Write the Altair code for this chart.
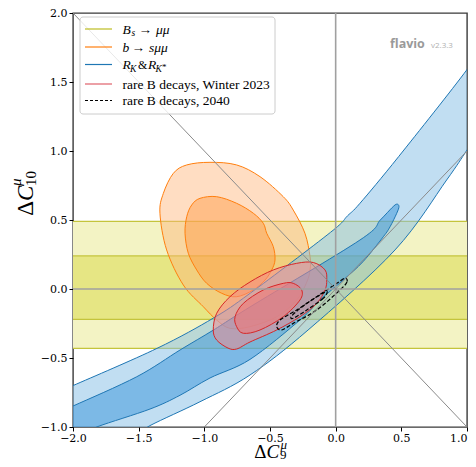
import altair as alt
import pandas as pd

# ---------------- data ----------------
X_TICKS = [-2.0, -1.5, -1.0, -0.5, 0.0, 0.5, 1.0]
Y_TICKS = [-1.0, -0.5, 0.0, 0.5, 1.0, 1.5, 2.0]

# Bs -> mumu horizontal bands (1 and 2 sigma)
BS_2SIG = [-0.43, 0.49]
BS_1SIG = [-0.22, 0.24]

# R_K & R_K* : 2 sigma band
BLUE2_X = [-2.2, -2.0, -1.36, -0.93, -0.65, -0.04, 0.09, 0.185, 0.48, 1.0, 1.15, 1.15,
           1.0, 0.845, 0.452, -0.21, -0.652, -1.033, -1.414, -1.6, -2.2]
BLUE2_Y = [-0.78, -0.70, -0.43, -0.21, -0.03, 0.41, 0.53, 0.621, 0.96, 1.59, 1.82, 1.22,
           1.007, 0.79, 0.283, -0.297, -0.623, -0.817, -0.99, -1.1, -1.1]
# R_K & R_K* : 1 sigma band
BLUE1_X = [-2.2, -2.0, -1.515, -1.185, -0.93, -0.652, 0.185, 0.34, 0.43, 0.465, 0.482,
           0.465, 0.414, 0.363, 0.21, 0.058, -0.12, -0.272, -0.652, -0.957, -1.185,
           -1.414, -1.82, -2.0, -2.2]
BLUE1_Y = [-0.93, -0.848, -0.636, -0.442, -0.297, -0.13, 0.355, 0.50, 0.59, 0.615, 0.598,
           0.549, 0.451, 0.379, 0.20, 0.065, -0.08, -0.225, -0.51, -0.645, -0.77,
           -0.87, -1.0, -1.08, -1.1]

# b -> s mumu
ORANGE2_X = [-0.957, -0.754, -0.576, -0.399, -0.323, -0.234, -0.195, -0.195, -0.22, -0.297,
             -0.449, -0.652, -0.805, -0.906, -1.008, -1.16, -1.287, -1.338, -1.312, -1.236, -1.134]
ORANGE2_Y = [0.918, 0.899, 0.814, 0.669, 0.572, 0.404, 0.234, 0.138, 0.05, -0.08,
             -0.201, -0.273, -0.285, -0.225, -0.128, 0.029, 0.283, 0.549, 0.693, 0.838, 0.899]
ORANGE1_X = [-1.033, -0.906, -0.754, -0.627, -0.551, -0.525, -0.475, -0.462, -0.487, -0.538,
             -0.627, -0.754, -0.868, -0.982, -1.058, -1.122, -1.147, -1.134, -1.096]
ORANGE1_Y = [0.657, 0.669, 0.621, 0.549, 0.476, 0.404, 0.307, 0.210, 0.138, 0.065,
             -0.007, -0.056, -0.031, 0.041, 0.138, 0.259, 0.404, 0.524, 0.609]

# rare B decays, Winter 2023
RED2_X = [-0.297, -0.170, -0.081, -0.068, -0.081, -0.144, -0.272, -0.449, -0.652, -0.754,
          -0.820, -0.906, -0.932, -0.906, -0.805, -0.652, -0.475]
RED2_Y = [0.186, 0.192, 0.138, 0.065, -0.007, -0.104, -0.201, -0.297, -0.384, -0.435,
          -0.428, -0.370, -0.297, -0.176, -0.056, 0.051, 0.138]
RED1_X = [-0.399, -0.323, -0.259, -0.272, -0.399, -0.576, -0.703, -0.754, -0.766, -0.703, -0.551]
RED1_Y = [0.041, 0.041, -0.007, -0.080, -0.201, -0.297, -0.321, -0.273, -0.201, -0.104, -0.007]

# rare B decays, 2040
DASH2_X = [0.071, 0.086, 0.033, -0.144, -0.323, -0.411, -0.449, -0.424, -0.297, -0.144, 0.008]
DASH2_Y = [0.078, 0.051, -0.007, -0.152, -0.249, -0.297, -0.273, -0.225, -0.152, -0.056, 0.041]
DASH1_X = [-0.066, -0.094, -0.220, -0.323, -0.332, -0.220, -0.119]
DASH1_Y = [-0.018, -0.067, -0.152, -0.212, -0.192, -0.104, -0.043]

# reference lines
DIAG_X = [-2.0, -1.0]
DIAG_Y = [2.0, -1.0]
DIAG_X2 = [1.0, 1.0]
DIAG_Y2 = [-1.0, 1.0]

LEGEND_LABELS = ["rare B decays, Winter 2023", "rare B decays, 2040"]

# ---------------- chart ----------------
W, H = 394, 414
xs = alt.Scale(domain=[-2, 1], nice=False, zero=False)
ys = alt.Scale(domain=[-1, 2], nice=False, zero=False)
xaxis = alt.Axis(values=X_TICKS, format='.1f', title=None, grid=False, domain=False,
                 tickColor='#000', tickSize=4, tickWidth=1, labelFont='DejaVu Serif',
                 labelFontSize=11, labelColor='#000', labelPadding=1, labelFlush=False,
                 labelAlign=alt.condition('datum.value == 1', alt.value('right'),
                                          alt.value('center')))
yaxis = alt.Axis(values=Y_TICKS, format='.1f', title=None, grid=False, domain=False,
                 tickColor='#000', tickSize=4, tickWidth=1, labelFont='DejaVu Serif',
                 labelFontSize=11, labelColor='#000', labelPadding=2, labelFlush=False)


def X(f):
    return alt.X(f, type='quantitative', scale=xs, axis=xaxis)


def Y(f):
    return alt.Y(f, type='quantitative', scale=ys, axis=yaxis)


def poly(px, py, stroke, fill=None, fop=0.5, interp='cardinal-closed', dash=None, sw=1.0):
    df = pd.DataFrame({'x': px, 'y': py, 'i': list(range(len(px)))})
    kw = dict(stroke=stroke, strokeWidth=sw, interpolate=interp, clip=True)
    if fill is not None:
        kw.update(fill=fill, fillOpacity=fop)
    if dash is not None:
        kw['strokeDash'] = dash
    return alt.Chart(df).mark_line(**kw).encode(x=X('x'), y=Y('y'), order='i:Q')


one = pd.DataFrame({'a': [0]})


def txt(s, x, y, size=13.5, font='Liberation Serif', style='normal', align='left',
        angle=0, color='#000', weight='normal', baseline='alphabetic'):
    return alt.Chart(one).mark_text(text=s, font=font, fontSize=size, fontStyle=style,
                                    align=align, angle=angle, color=color,
                                    fontWeight=weight, baseline=baseline).encode(
        x=alt.value(x), y=alt.value(y))


layers = []
# Bs -> mumu bands
bands = pd.DataFrame({'x': [-2.0], 'x2': [1.0], 'y': [BS_2SIG[0]], 'y2': [BS_2SIG[1]]})
bands1 = pd.DataFrame({'x': [-2.0], 'x2': [1.0], 'y': [BS_1SIG[0]], 'y2': [BS_1SIG[1]]})
layers.append(alt.Chart(bands).mark_rect(color='#f3f3c4').encode(
    x=X('x'), x2='x2', y=Y('y'), y2='y2'))
layers.append(alt.Chart(bands1).mark_rect(color='#e6e684').encode(
    x=X('x'), x2='x2', y=Y('y'), y2='y2'))
edges = pd.DataFrame({'y': BS_2SIG + BS_1SIG})
layers.append(alt.Chart(edges).mark_rule(color='#c4c43c', strokeWidth=1.2).encode(y=Y('y')))

# b -> s mumu
layers.append(poly(ORANGE2_X, ORANGE2_Y, '#ff7f0e', '#ffb478', 0.45))
layers.append(poly(ORANGE1_X, ORANGE1_Y, '#ff7f0e', '#ff9a40', 0.45))
# R_K
layers.append(poly(BLUE2_X, BLUE2_Y, '#1f77b4', '#83bde5', 0.5, interp='cardinal'))
layers.append(poly(BLUE1_X, BLUE1_Y, '#1f77b4', '#3794da', 0.5, interp='cardinal'))
# combined
layers.append(poly(RED2_X, RED2_Y, '#d62728', '#f68790', 0.5))
layers.append(poly(RED1_X, RED1_Y, '#d62728', '#f07878', 0.6))
layers.append(poly(DASH2_X, DASH2_Y, '#000000', dash=[4, 2], sw=1.2))
layers.append(poly(DASH1_X, DASH1_Y, '#000000', dash=[4, 2], sw=1.2))

# reference lines
layers.append(alt.Chart(pd.DataFrame({'y': [0.0]})).mark_rule(
    color='#a0a0a0', strokeWidth=1.6).encode(y=Y('y')))
layers.append(alt.Chart(pd.DataFrame({'x': [0.0]})).mark_rule(
    color='#a0a0a0', strokeWidth=1.6).encode(x=X('x')))
diag = pd.DataFrame({'x': DIAG_X, 'y': DIAG_Y, 'x2': DIAG_X2, 'y2': DIAG_Y2})
layers.append(alt.Chart(diag).mark_rule(color='#8a8a8a', strokeWidth=1.0, clip=True).encode(
    x=X('x'), y=Y('y'), x2='x2', y2='y2'))

# legend
layers.append(alt.Chart(one).mark_rect(fill='white', fillOpacity=0.8, stroke='#cccccc',
                                       strokeWidth=1, cornerRadius=3).encode(
    x=alt.value(7), x2=alt.value(202), y=alt.value(4), y2=alt.value(101)))
leg_rows = [16, 34, 51.5, 71, 87.5]
leg_cols = ['#bcbd22', '#ff7f0e', '#1f77b4', '#e0606a', '#000000']
for r, c in zip(leg_rows, leg_cols):
    kw = dict(color=c, strokeWidth=1.2)
    if c == '#000000':
        kw['strokeDash'] = [3, 2]
    layers.append(alt.Chart(one).mark_rule(**kw).encode(
        x=alt.value(12), x2=alt.value(39), y=alt.value(r)))
# row 1: B_s -> mu mu
b1 = leg_rows[0] + 4.5
layers += [txt('B', 49.5, b1, style='italic'), txt('s', 58.5, b1 + 2.5, size=9.5, style='italic'),
           txt('→', 65.5, b1), txt('μμ', 83, b1, style='italic')]
b2 = leg_rows[1] + 4.5
layers += [txt('b', 49.5, b2, style='italic'), txt('→', 58.5, b2), txt('sμμ', 76, b2, style='italic')]
b3 = leg_rows[2] + 4.5
layers += [txt('R', 49.5, b3, style='italic'), txt('K', 57, b3 + 2.5, size=9.5, style='italic'),
           txt('&', 65, b3, size=12), txt('R', 75, b3, style='italic'),
           txt('K', 82.5, b3 + 2.5, size=9.5, style='italic'), txt('*', 89, b3 + 1, size=9)]
layers.append(txt(LEGEND_LABELS[0], 49.5, leg_rows[3] + 4.5))
layers.append(txt(LEGEND_LABELS[1], 49.5, leg_rows[4] + 4.5))

# watermark
layers.append(txt('flavio', 317, 35, size=12.5, font='Open Sans', weight='bold', color='#9a9a9a'))
layers.append(txt('v2.3.3', 358, 35, size=8, font='Open Sans', color='#b0b0b0'))

# axis titles
layers += [txt('Δ', 193.5, 444.5, size=19, align='right'),
           txt('C', 193.5, 444.5, size=19, style='italic'),
           txt('μ', 207.5, 436, size=13, style='italic'),
           txt('9', 207, 445.5, size=13)]
layers += [txt('Δ', -40, 188, size=23, align='right', angle=270),
           txt('C', -40, 188, size=23, style='italic', angle=270),
           txt('μ', -52, 173, size=15, style='italic', angle=270),
           txt('10', -37, 173, size=15, angle=270)]

chart = alt.layer(*layers).properties(
    width=W, height=H,
    autosize=alt.AutoSizeParams(type='none'),
    padding={'left': 65, 'top': 5, 'right': 1, 'bottom': 32},
    background='white'
).configure_view(stroke='#3a3a3a', strokeWidth=1.4)

chart.save('out.html', embed_options={'renderer': 'svg', 'actions': False})
